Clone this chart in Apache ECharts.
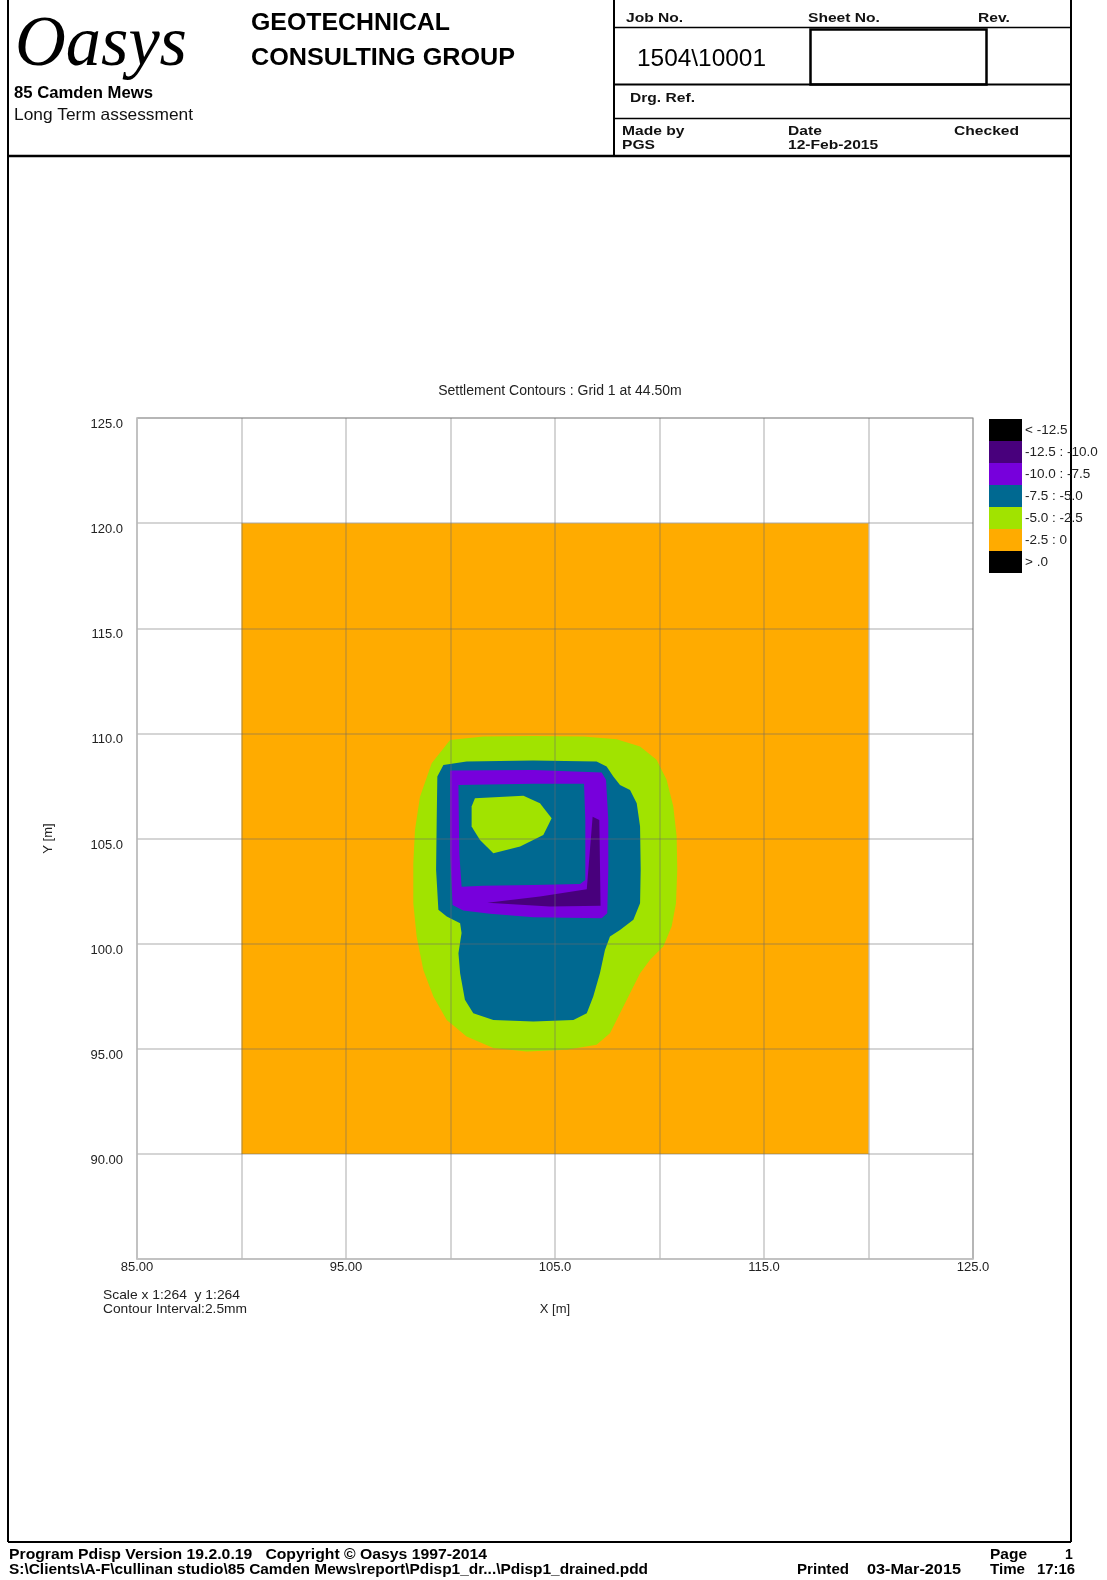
<!DOCTYPE html>
<html><head><meta charset="utf-8">
<script src="https://cdn.jsdelivr.net/npm/echarts/dist/echarts.min.js"></script>
<style>html,body{margin:0;padding:0;background:#fff}#c{width:1107px;height:1580px}</style>
</head><body><div id="c"></div>
<script>
// ---------------- DATA ----------------
const xTickValues = [85, 95, 105, 115, 125];
const xTickLabels = ['85.00', '95.00', '105.0', '115.0', '125.0'];
const yTickValues = [90, 95, 100, 105, 110, 115, 120, 125];
const yTickLabels = ['90.00', '95.00', '100.0', '105.0', '110.0', '115.0', '120.0', '125.0'];

// settlement bands (mm)
const bandLabels = ['< -12.5', '-12.5 : -10.0', '-10.0 : -7.5', '-7.5 : -5.0', '-5.0 : -2.5', '-2.5 : 0', '> .0'];
const bandLower  = [null, -12.5, -10.0, -7.5, -5.0, -2.5, 0];
const bandUpper  = [-12.5, -10.0, -7.5, -5.0, -2.5, 0, null];
const bandColors = ['#000000', '#48007c', '#7700dc', '#006991', '#a1e300', '#ffab00', '#000000'];

// contour polygons, [x (m), y (m)]
const orangeBand = [[90, 90], [120, 90], [120, 120], [90, 120]];
const greenOuter = [
  [99.98,109.69],[101.57,109.85],[103.96,109.88],[106.36,109.85],[107.95,109.72],[109.07,109.37],
  [109.86,108.74],[110.34,107.79],[110.66,106.52],[110.82,105.09],[110.85,103.51],[110.79,101.92],
  [110.58,100.81],[110.18,99.86],[109.55,99.23],[109.07,98.59],[108.59,97.64],[108.11,96.69],
  [107.63,95.74],[106.99,95.19],[105.56,94.95],[103.64,94.87],[102.05,95.03],[100.77,95.58],
  [99.82,96.37],[99.18,97.48],[98.7,98.75],[98.38,100.34],[98.22,101.92],[98.22,103.82],
  [98.3,105.41],[98.54,106.99],[99.1,108.58]
];
const blueOuter = [
  [99.37,107.95],[99.66,108.5],[100.77,108.66],[103.96,108.71],[106.99,108.66],[107.47,108.42],
  [107.79,107.95],[108.11,107.55],[108.59,107.31],[108.91,106.68],[109.07,105.57],[109.1,103.51],
  [109.07,101.92],[108.75,101.13],[108.11,100.65],[107.63,100.34],[107.39,99.7],[107.15,98.59],
  [106.83,97.48],[106.52,96.69],[105.88,96.37],[103.96,96.3],[102.05,96.37],[101.09,96.69],
  [100.69,97.33],[100.46,98.59],[100.38,99.54],[100.53,100.5],[100.46,100.97],[99.82,101.29],
  [99.42,101.61],[99.31,103.51],[99.34,105.88]
];
const purpleOuter = [
  [99.98,108.23],[103.96,108.26],[107.23,108.14],[107.44,107.79],[107.55,105.88],[107.55,103.51],
  [107.5,101.45],[107.23,101.21],[103.96,101.26],[101.89,101.42],[100.61,101.57],[100.1,101.84],
  [99.98,104.3]
];
const blueInner = [
  [100.38,107.55],[103.96,107.6],[106.39,107.6],[106.45,105.88],[106.45,103.03],[106.2,102.84],
  [103.96,102.79],[101.57,102.75],[100.53,102.71],[100.42,104.3]
];
const darkPurpleWedge = [
  [101.76,101.95],[104.28,102.24],[106.52,102.59],[106.8,106.04],[107.12,105.88],[107.18,101.8],
  [104.76,101.76]
];
const greenHole = [
  [101.17,106.92],[103.49,107.03],[104.28,106.68],[104.84,105.96],[104.44,105.17],[103.33,104.62],
  [102.05,104.3],[101.41,104.93],[101.01,105.57],[101.01,106.52]
];
const layerPolygons   = [orangeBand, greenOuter, blueOuter, purpleOuter, blueInner, darkPurpleWedge, greenHole];
const layerSettlement = [-1.25, -3.75, -6.25, -8.75, -6.25, -11.25, -3.75];

// ---------------- CHART ----------------
const SANS = 'Liberation Sans, Arial, sans-serif';
const mctx = document.createElement('canvas').getContext('2d');
function fitScale(text, weight, size, family, target) {
  mctx.font = weight + ' ' + size + 'px ' + family;
  return target / mctx.measureText(text).width;
}
function txt(x, y, text, opt) {
  opt = opt || {};
  const weight = opt.weight || 'normal', size = opt.size || 13, family = opt.family || SANS;
  const style = opt.fontStyle || 'normal';
  const sc = opt.target ? fitScale(text, weight, size, family, opt.target) : (opt.scaleX || 1);
  return {type: 'text', x: x, y: y, scaleX: sc, silent: true,
    style: {text: text, fontSize: size, fontFamily: family, fontWeight: weight, fontStyle: style,
            fill: opt.color || '#111', align: 'left', verticalAlign: 'middle'}};
}
function ln(x1, y1, x2, y2, w) {
  return {type: 'line', silent: true, shape: {x1: x1, y1: y1, x2: x2, y2: y2}, style: {stroke: '#000', lineWidth: w || 2}};
}

const graphics = [
  ln(8, 0, 8, 1542, 2), ln(1071, 0, 1071, 1542, 2), ln(8, 1542, 1071, 1542, 2),
  ln(8, 156, 1071, 156, 2.5), ln(614, 0, 614, 156, 2),
  ln(614, 27.5, 1071, 27.5, 1.5), ln(614, 84.5, 1071, 84.5, 2), ln(614, 118.5, 1071, 118.5, 1.5),
  {type: 'rect', silent: true, shape: {x: 810.5, y: 29.5, width: 176, height: 55}, style: {fill: null, stroke: '#000', lineWidth: 2.5}},
  txt(15, 46, 'Oasys', {size: 72, family: 'Liberation Serif, Times New Roman, serif', fontStyle: 'italic', target: 172, color: '#000'}),
  txt(251, 23, 'GEOTECHNICAL', {weight: 'bold', size: 24, target: 199, color: '#000'}),
  txt(251, 58, 'CONSULTING GROUP', {weight: 'bold', size: 24, target: 264, color: '#000'}),
  txt(14, 93, '85 Camden Mews', {weight: 'bold', size: 16.5, target: 139, color: '#000'}),
  txt(14, 115, 'Long Term assessment', {size: 16.5, target: 179, color: '#111'}),
  txt(626, 19, 'Job No.', {weight: 'bold', size: 12, scaleX: 1.3}),
  txt(808, 19, 'Sheet No.', {weight: 'bold', size: 12, scaleX: 1.3}),
  txt(978, 19, 'Rev.', {weight: 'bold', size: 12, scaleX: 1.3}),
  txt(637, 59, '1504\\10001', {size: 24, target: 129, color: '#000'}),
  txt(630, 99, 'Drg. Ref.', {weight: 'bold', size: 12, scaleX: 1.3}),
  txt(622, 132, 'Made by', {weight: 'bold', size: 12, scaleX: 1.3}),
  txt(622, 146, 'PGS', {weight: 'bold', size: 12, scaleX: 1.3}),
  txt(788, 132, 'Date', {weight: 'bold', size: 12, scaleX: 1.3}),
  txt(788, 146, '12-Feb-2015', {weight: 'bold', size: 12, scaleX: 1.3}),
  txt(954, 132, 'Checked', {weight: 'bold', size: 12, scaleX: 1.3}),
  txt(103, 1295, 'Scale x 1:264  y 1:264', {size: 13.5, target: 137, color: '#222'}),
  txt(103, 1309, 'Contour Interval:2.5mm', {size: 13.5, target: 144, color: '#222'}),
  txt(9, 1555, 'Program Pdisp Version 19.2.0.19   Copyright \u00A9 Oasys 1997-2014', {weight: 'bold', size: 14, target: 478, color: '#000'}),
  txt(9, 1570, 'S:\\Clients\\A-F\\cullinan studio\\85 Camden Mews\\report\\Pdisp1_dr...\\Pdisp1_drained.pdd', {weight: 'bold', size: 14, target: 639, color: '#000'}),
  txt(797, 1570, 'Printed', {weight: 'bold', size: 14, target: 52, color: '#000'}),
  txt(867, 1570, '03-Mar-2015', {weight: 'bold', size: 14, target: 94, color: '#000'}),
  txt(990, 1555, 'Page', {weight: 'bold', size: 14, target: 37, color: '#000'}),
  txt(1065, 1555, '1', {weight: 'bold', size: 14, color: '#000'}),
  txt(990, 1570, 'Time', {weight: 'bold', size: 14, target: 35, color: '#000'}),
  txt(1037, 1570, '17:16', {weight: 'bold', size: 14, target: 38, color: '#000'})
];

const pieces = bandLabels.map(function (lab, i) {
  const p = {label: lab, color: bandColors[i]};
  if (bandLower[i] !== null) p.gte = bandLower[i];
  if (bandUpper[i] !== null) { if (i === 5) p.lte = bandUpper[i]; else p.lt = bandUpper[i]; }
  if (i === 6) { delete p.gte; p.gt = bandLower[i]; }
  return p;
});

const gridColor = 'rgba(105,105,105,0.38)';
const option = {
  animation: false,
  backgroundColor: '#fff',
  title: {text: 'Settlement Contours : Grid 1 at 44.50m', left: 555, top: 379, textAlign: 'center',
    textStyle: {fontSize: 14, fontWeight: 'normal', color: '#222', fontFamily: SANS}},
  grid: {left: 137, top: 418, width: 836, height: 841, show: true, borderColor: '#c6c6c6', borderWidth: 1.5,
    containLabel: false, outerBoundsMode: 'none'},
  xAxis: {type: 'value', min: 85, max: 125, interval: 5, z: 10,
    name: 'X [m]', nameLocation: 'middle', nameGap: 44,
    nameTextStyle: {fontSize: 13, color: '#222', fontFamily: SANS},
    axisLine: {show: true, lineStyle: {color: '#c6c6c6', width: 1.5}},
    axisTick: {show: false},
    splitLine: {show: true, lineStyle: {color: gridColor, width: 1.5}},
    axisLabel: {margin: 2, fontSize: 13, color: '#222', fontFamily: SANS, showMinLabel: true, showMaxLabel: true,
      formatter: function (v) { const i = xTickValues.indexOf(v); return i >= 0 ? xTickLabels[i] : ''; }}},
  yAxis: {type: 'value', min: 85, max: 125, interval: 5, z: 10,
    name: 'Y [m]', nameLocation: 'middle', nameGap: 82, nameRotate: 90,
    nameTextStyle: {fontSize: 13, color: '#222', fontFamily: SANS},
    axisLine: {show: true, lineStyle: {color: '#c6c6c6', width: 1.5}},
    axisTick: {show: false},
    splitLine: {show: true, lineStyle: {color: gridColor, width: 1.5}},
    axisLabel: {margin: 14, fontSize: 13, color: '#222', fontFamily: SANS, verticalAlign: 'top', showMinLabel: true, showMaxLabel: true,
      formatter: function (v) { const i = yTickValues.indexOf(v); return i >= 0 ? yTickLabels[i] : ''; }}},
  visualMap: {type: 'piecewise', dimension: 1, seriesIndex: 0, orient: 'vertical', inverse: true,
    left: 989, top: 419, padding: 0, itemWidth: 33, itemHeight: 22, itemGap: 0, textGap: 3,
    itemSymbol: 'rect', align: 'left', hoverLink: false, selectedMode: false,
    pieces: pieces,
    textStyle: {color: '#222', fontSize: 13.5, fontFamily: SANS, padding: [0, 0, 5, 0]}},
  graphic: {elements: graphics},
  series: [{
    type: 'custom', coordinateSystem: 'cartesian2d', z: 2, silent: true,
    data: layerPolygons.map(function (p, i) { return [i, layerSettlement[i]]; }),
    encode: {x: 0, y: 1},
    renderItem: function (params, api) {
      const poly = layerPolygons[api.value(0)];
      return {type: 'polygon', shape: {points: poly.map(function (pt) { return api.coord(pt); })},
        style: {fill: api.visual('color'), stroke: null}};
    }
  }]
};
const chart = echarts.init(document.getElementById('c'), null, {renderer: 'canvas'});
chart.setOption(option);
</script></body></html>
